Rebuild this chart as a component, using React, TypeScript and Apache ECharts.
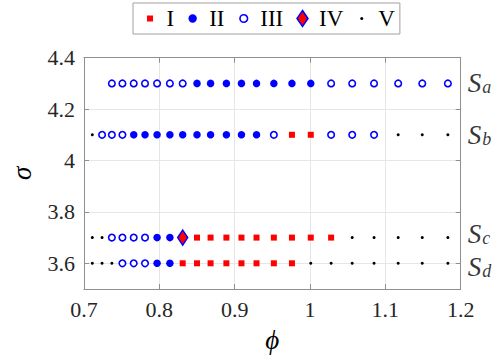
import React, { useEffect, useRef } from 'react';
import * as echarts from 'echarts';

// phi sample positions shared by all runs
const phiGrid = [0.711, 0.724, 0.737, 0.751, 0.766, 0.781, 0.797, 0.814, 0.831, 0.850, 0.868, 0.889, 0.909, 0.929, 0.952, 0.976, 1.001, 1.028, 1.056, 1.085, 1.117, 1.149, 1.183];
// sigma of each run and its label subscript
const sigmaRows = [4.3, 4.1, 3.7, 3.6];
const rowSubs = ['a', 'b', 'c', 'd'];
// regime code at each phi (0 = not computed, 1..5 = I..V)
const regimesSa = [0, 0, 3, 3, 3, 3, 3, 3, 3, 2, 2, 2, 2, 2, 2, 2, 2, 3, 3, 3, 3, 3, 3];
const regimesSb = [5, 3, 3, 3, 2, 2, 2, 2, 2, 2, 2, 2, 2, 2, 3, 1, 1, 3, 3, 3, 5, 5, 5];
const regimesSc = [5, 5, 3, 3, 3, 3, 2, 2, 4, 1, 1, 1, 1, 1, 1, 1, 1, 1, 5, 5, 5, 5, 5];
const regimesSd = [5, 5, 5, 3, 3, 3, 2, 2, 1, 1, 1, 1, 1, 1, 1, 1, 5, 5, 5, 5, 5, 5, 5];
const regimeRows = [regimesSa, regimesSb, regimesSc, regimesSd];
const regimeNames = ['I', 'II', 'III', 'IV', 'V'];
// axis ticks
const xTicks = [0.7, 0.8, 0.9, 1, 1.1, 1.2];
const yTicks = [3.6, 3.8, 4, 4.2, 4.4];

const FONT = 'Liberation Serif';
const AXIS_COLOR = '#8f8f8f';

function pointsFor(code: number): number[][] {
  const out: number[][] = [];
  regimeRows.forEach((row, r) => {
    row.forEach((c, i) => {
      if (c === code) out.push([phiGrid[i], sigmaRows[r]]);
    });
  });
  return out;
}

const seriesStyles: any[] = [
  { symbol: 'rect', symbolSize: 6, itemStyle: { color: '#ff0000', opacity: 1 }, z: 3 },
  { symbol: 'circle', symbolSize: 7.5, itemStyle: { color: '#0000ff', opacity: 1 }, z: 3 },
  { symbol: 'circle', symbolSize: 6.5, itemStyle: { color: '#ffffff', borderColor: '#0000ff', borderWidth: 1.6, opacity: 1 }, z: 3 },
  { symbol: 'diamond', symbolSize: [10, 15], itemStyle: { color: '#ff0000', borderColor: '#0000ff', borderWidth: 1.5, opacity: 1 }, z: 4 },
  { symbol: 'circle', symbolSize: 3, itemStyle: { color: '#000000', opacity: 1 }, z: 3 },
];

// legend icons, drawn in a 23x20 box
const legendIcons = [
  'path://M0,0M23,20M8.5,7h6v6h-6z',
  'path://M0,0M23,20M15.7,10A4.2,4.2 0 1 1 7.3,10A4.2,4.2 0 1 1 15.7,10Z',
  'path://M0,0M23,20M15.3,10A3.8,3.8 0 1 1 7.7,10A3.8,3.8 0 1 1 15.3,10Z',
  'path://M0,0M23,20M11.5,2L17,10L11.5,18L6,10Z',
  'path://M0,0M23,20M13,10A1.5,1.5 0 1 1 10,10A1.5,1.5 0 1 1 13,10Z',
];

export default function App() {
  const ref = useRef<HTMLDivElement>(null);
  useEffect(() => {
    if (!ref.current) return;
    const chart = echarts.init(ref.current, null, { renderer: 'svg' });

    const dataSeries = regimeNames.map((name, k) => ({
      type: 'scatter',
      name,
      data: pointsFor(k + 1),
      ...seriesStyles[k],
      silent: true,
    }));

    const labelSeries = {
      type: 'scatter',
      name: 'labels',
      symbolSize: 0,
      silent: true,
      data: sigmaRows.map((s, r) => ({
        value: [1.2, s],
        label: {
          offset: r === 2 ? [0, -4] : r === 3 ? [0, 4] : [0, 0],
        },
      })),
      label: {
        show: true,
        position: 'right',
        distance: 7,
        fontFamily: FONT,
        formatter: (p: any) => `{s|S}{sub|${rowSubs[p.dataIndex]}}`,
        rich: {
          s: { fontFamily: FONT, fontStyle: 'italic', fontSize: 27, color: '#000', lineHeight: 26, verticalAlign: 'middle' },
          sub: { fontFamily: FONT, fontStyle: 'italic', fontSize: 18, color: '#000', lineHeight: 17, verticalAlign: 'bottom', padding: [0, 0, 0, 1] },
        },
      },
    };

    const legendStyles = [
      { color: '#ff0000', borderWidth: 0, opacity: 1 },
      { color: '#0000ff', borderWidth: 0, opacity: 1 },
      { color: '#ffffff', borderColor: '#0000ff', borderWidth: 1.6, opacity: 1 },
      { color: '#ff0000', borderColor: '#0000ff', borderWidth: 1.5, opacity: 1 },
      { color: '#000000', borderWidth: 0, opacity: 1 },
    ];

    const tickLabelStyle = { fontFamily: FONT, fontSize: 22, color: '#262626' };

    chart.setOption({
      animation: false,
      backgroundColor: '#ffffff',
      textStyle: { fontFamily: FONT },
      grid: { left: 74, right: 36.3, top: 57.7, bottom: 69, containLabel: false },
      legend: {
        left: 133,
        top: 3,
        itemWidth: 23,
        itemHeight: 20,
        itemGap: 7,
        padding: [4, 5, 4, 5.5],
        borderColor: '#a0a0a0',
        borderWidth: 1,
        backgroundColor: '#ffffff',
        selectedMode: false,
        textStyle: { fontFamily: FONT, fontSize: 23, color: '#000' },
        data: regimeNames.map((n, k) => ({ name: n, icon: legendIcons[k], itemStyle: legendStyles[k] })),
      },
      xAxis: [
        {
          type: 'value',
          min: 0.7,
          max: 1.2,
          name: 'ϕ',
          nameLocation: 'middle',
          nameGap: 37,
          nameTextStyle: { fontFamily: FONT, fontStyle: 'italic', fontSize: 27, color: '#000' },
          axisLine: { show: true, onZero: false, lineStyle: { color: AXIS_COLOR, width: 1 } },
          axisTick: { show: true, inside: true, length: 5, customValues: xTicks, lineStyle: { color: AXIS_COLOR } },
          axisLabel: {
            customValues: xTicks,
            margin: 9,
            ...tickLabelStyle,
            formatter: (v: number) => String(Math.round(v * 10) / 10),
          },
          splitLine: { show: true, lineStyle: { color: '#e6e6e6', width: 1 } },
        },
        {
          type: 'value',
          position: 'top',
          min: 0.7,
          max: 1.2,
          axisLine: { show: true, onZero: false, lineStyle: { color: AXIS_COLOR, width: 1 } },
          axisTick: { show: true, inside: true, length: 5, customValues: xTicks, lineStyle: { color: AXIS_COLOR } },
          axisLabel: { show: false },
          splitLine: { show: false },
        },
      ],
      yAxis: [
        {
          type: 'value',
          min: 3.5,
          max: 4.4,
          name: 'σ',
          nameLocation: 'middle',
          nameGap: 49,
          nameRotate: 90,
          nameTextStyle: { fontFamily: FONT, fontStyle: 'italic', fontSize: 27, color: '#000' },
          axisLine: { show: true, onZero: false, lineStyle: { color: AXIS_COLOR, width: 1 } },
          axisTick: { show: true, inside: true, length: 5, customValues: yTicks, lineStyle: { color: AXIS_COLOR } },
          axisLabel: {
            customValues: yTicks,
            margin: 9,
            ...tickLabelStyle,
            formatter: (v: number) => String(Math.round(v * 10) / 10),
          },
          splitLine: { show: true, lineStyle: { color: '#e6e6e6', width: 1 } },
        },
        {
          type: 'value',
          position: 'right',
          min: 3.5,
          max: 4.4,
          axisLine: { show: true, onZero: false, lineStyle: { color: AXIS_COLOR, width: 1 } },
          axisTick: { show: true, inside: true, length: 5, customValues: yTicks, lineStyle: { color: AXIS_COLOR } },
          axisLabel: { show: false },
          splitLine: { show: false },
        },
      ],
      series: [...dataSeries, labelSeries],
    });

    return () => chart.dispose();
  }, []);

  return (
    <div
      ref={ref}
      style={{ position: 'fixed', left: 0, top: 0, width: 497, height: 358, background: '#fff' }}
    />
  );
}
